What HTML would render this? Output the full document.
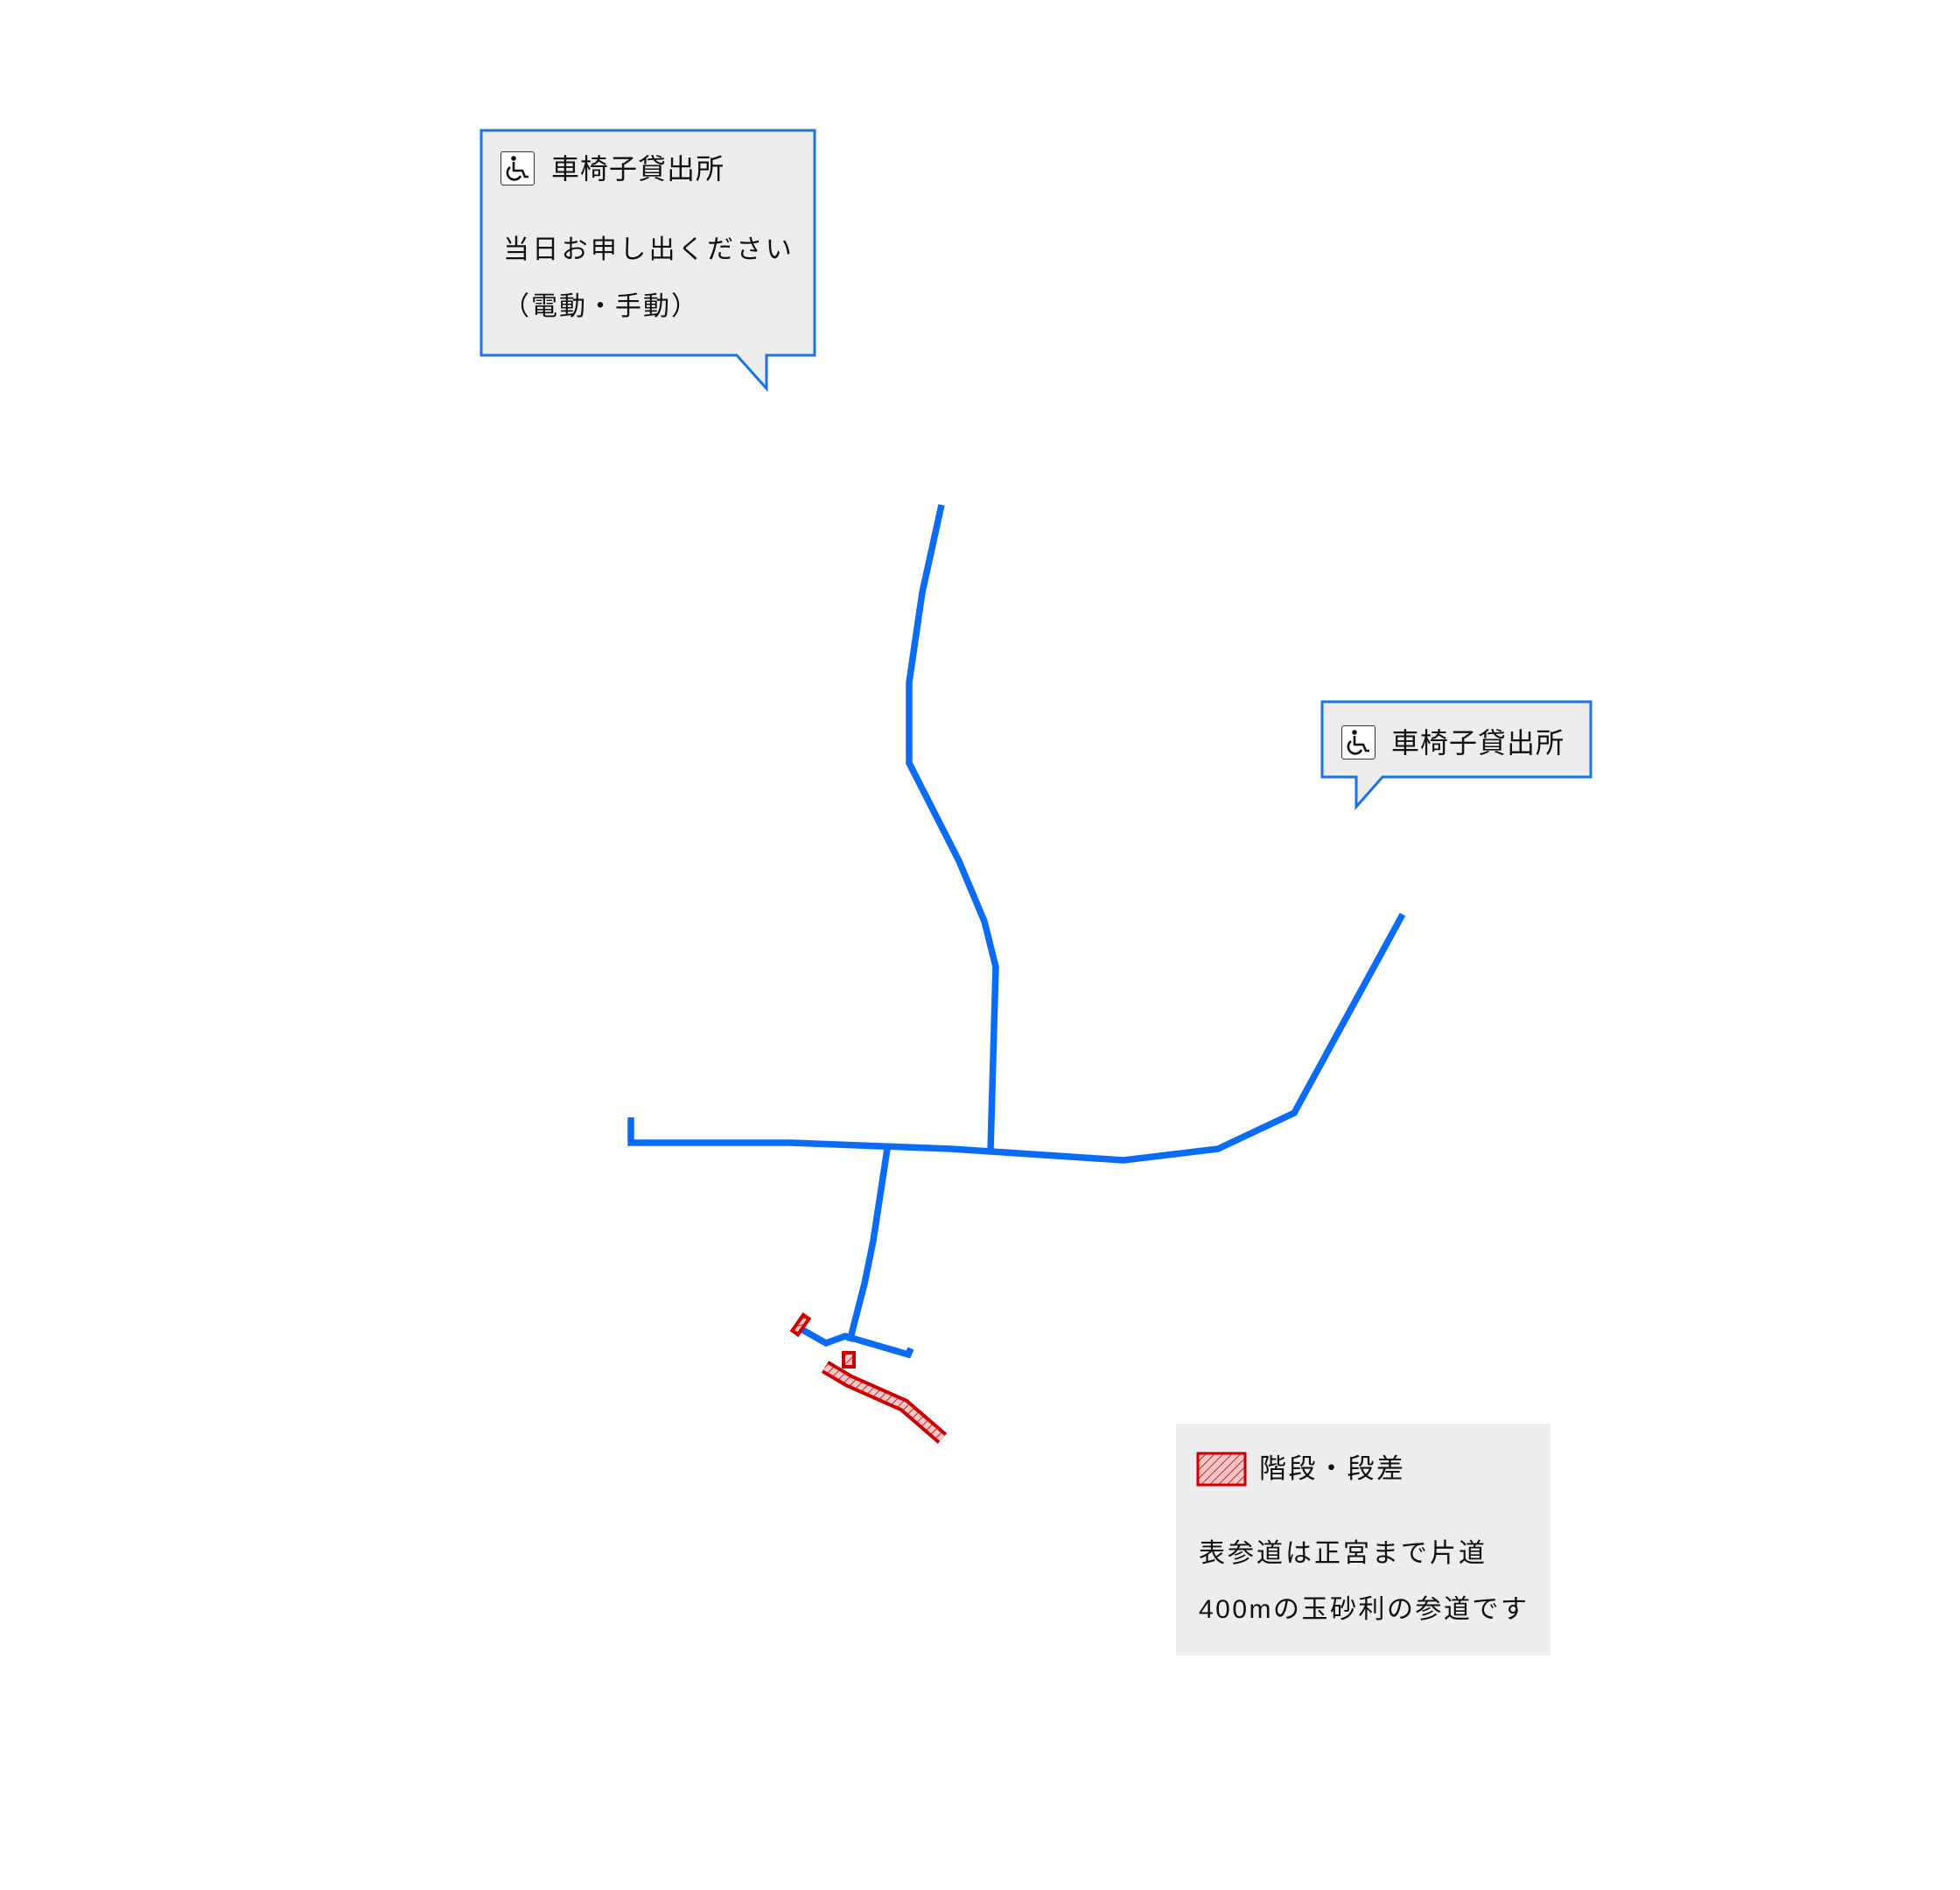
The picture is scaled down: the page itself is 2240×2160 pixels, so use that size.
<!DOCTYPE html>
<html><head><meta charset="utf-8"><style>
html,body{margin:0;padding:0;background:#fff}
body{width:2240px;height:2160px;position:relative;overflow:hidden;font-family:"Liberation Sans","Noto Sans CJK JP",sans-serif;color:#111}
.t{position:absolute;white-space:nowrap;font-size:30px;line-height:1}
.ic{position:absolute;width:37px;height:37px;border:1px solid #333;border-radius:3px;background:#fff}
</style></head><body>
<svg width="2240" height="2160" style="position:absolute;left:0;top:0">
<defs>
<pattern id="h" width="7" height="7" patternUnits="userSpaceOnUse" patternTransform="rotate(45)">
<rect width="7" height="7" fill="#f4c6c6"/><line x1="0" y1="0" x2="0" y2="7" stroke="#cc2222" stroke-width="2"/>
</pattern>
<g id="wc" fill="none" stroke="#111" stroke-width="2.6">
<circle cx="14" cy="7" r="2.8" fill="#111" stroke="none"/>
<path d="M14,11 V21 H24 L27,28 H31"/>
<path d="M10,17 A8,8 0 1 0 22,27"/>
</g>
</defs>
<path d="M550,149 H931 V406 H876 V444 L842,406 H550 Z" fill="#ededed" stroke="#1a73e8" stroke-width="3"/>
<path d="M1518,806 H1825 V892 H1587 L1557,926 V892 H1518 Z" fill="#ededed" stroke="#1a73e8" stroke-width="3" transform="translate(-7,-4)"/>
<rect x="1344" y="1627" width="428" height="265" fill="#ededed"/>
<rect x="1369" y="1661" width="54" height="36" fill="url(#h)" stroke="#cc0000" stroke-width="3"/>
<g fill="none" stroke="#0a6cf5" stroke-width="7.5" stroke-linejoin="miter" transform="translate(-4,-5)">
<polyline points="1080,582 1058,682 1043,785 1043,877 1100,989 1129,1058 1142,1110 1136,1320"/>
<polyline points="725,1282 725,1311 908,1311 1091,1318 1288,1331 1396,1318 1483,1277 1607,1050"/>
<polyline points="1018,1318 1002,1423 992,1472 975,1538"/>
<polyline points="918,1523 948,1540 970,1532 1042,1553 1045,1546"/>
</g>
<g stroke="#cc0000" stroke-linejoin="miter">
<polyline points="943,1562 970,1578 1033,1606 1077,1644" fill="none" stroke-width="16"/>
<polyline points="943,1562 970,1578 1033,1606 1077,1644" fill="none" stroke="url(#h)" stroke-width="8"/>
<rect x="964" y="1546" width="12" height="16" fill="url(#h)" stroke-width="4"/>
<rect x="-4" y="-11" width="8" height="22" fill="url(#h)" stroke-width="4" transform="translate(915,1514) rotate(35)"/>
</g>
</svg>
<div class="ic" style="left:572px;top:173px"><svg width="37" height="37"><use href="#wc"/></svg></div>
<div class="ic" style="left:1533px;top:829px"><svg width="37" height="37"><use href="#wc"/></svg></div>
<div class="t" style="left:630px;top:177px;font-size:32px;letter-spacing:1px">車椅子貸出所</div>
<div class="t" style="left:575px;top:271px;letter-spacing:3.3px">当日お申し出ください</div>
<div class="t" style="left:575px;top:336px;letter-spacing:2px">（電動・手動）</div>
<div class="t" style="left:1590px;top:833px;font-size:32px;letter-spacing:1px">車椅子貸出所</div>
<div class="t" style="left:1439px;top:1663px;font-size:31px;letter-spacing:2.5px">階段・段差</div>
<div class="t" style="left:1370px;top:1761px;letter-spacing:3px">表参道は正宮まで片道</div>
<div class="t" style="left:1370px;top:1825px;letter-spacing:2.5px">400mの玉砂利の参道です</div>
</body></html>
